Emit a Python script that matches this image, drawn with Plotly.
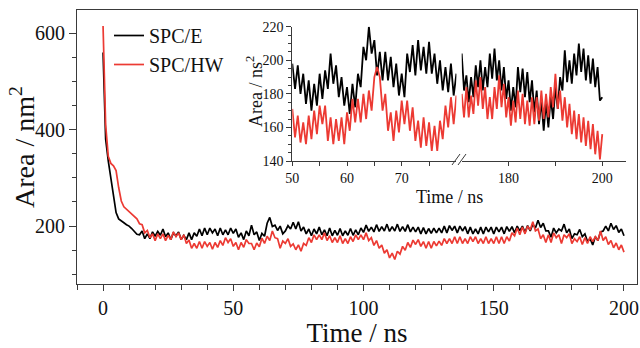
import plotly.graph_objects as go

# ---------------- data ----------------
time_main = list(range(0, 201))  # ns, 1 ns sampling

spce_main = [
    560, 380, 335, 300, 260, 228, 215, 210, 207, 203, 200, 195, 188, 183, 182,
    190, 174, 184, 174, 188, 179, 189, 181, 194, 178, 186, 172, 186, 180, 188,
    172, 181, 172, 186, 172, 186, 179, 194, 180, 196, 182, 196, 186, 194, 180,
    196, 182, 192, 182, 196, 185, 194, 177, 186, 172, 190, 180, 202, 182, 188,
    170, 185, 179, 206, 218, 199, 202, 191, 200, 184, 190, 201, 194, 208, 194,
    209, 190, 198, 184, 194, 180, 194, 184, 198, 182, 192, 180, 196, 180, 191,
    181, 195, 180, 190, 181, 195, 181, 192, 182, 196, 187, 202, 189, 198, 188,
    203, 189, 199, 190, 204, 189, 199, 190, 204, 189, 199, 189, 203, 188, 198,
    188, 198, 184, 197, 184, 195, 185, 196, 186, 196, 186, 200, 186, 201, 191,
    200, 186, 200, 190, 199, 184, 198, 184, 194, 184, 198, 184, 198, 188, 198,
    184, 198, 188, 198, 184, 199, 189, 199, 186, 200, 190, 200, 187, 201, 190,
    204, 196, 212, 197, 206, 190, 190, 177, 196, 186, 194, 190, 204, 186, 194,
    174, 184, 182, 193, 178, 184, 168, 174, 161, 178, 170, 188, 190, 200, 190,
    206, 193, 201, 187, 194, 180,
]

spchw_main = [
    615, 410, 345, 330, 325, 315, 280, 252, 240, 235, 230, 226, 222, 215, 205,
    203, 186, 191, 176, 184, 170, 184, 174, 184, 170, 181, 172, 188, 178, 186,
    172, 182, 164, 171, 154, 164, 154, 168, 154, 168, 158, 166, 152, 166, 156,
    170, 160, 176, 166, 174, 158, 166, 151, 166, 156, 172, 164, 164, 151, 165,
    157, 175, 164, 179, 170, 190, 176, 174, 154, 169, 164, 174, 158, 163, 151,
    161, 148, 164, 160, 176, 166, 182, 172, 182, 172, 186, 170, 180, 166, 176,
    166, 180, 164, 174, 164, 178, 168, 182, 172, 182, 172, 186, 170, 176, 160,
    170, 154, 161, 144, 151, 134, 144, 131, 148, 142, 158, 150, 166, 156, 171,
    162, 172, 158, 168, 154, 168, 154, 168, 159, 169, 160, 174, 164, 174, 164,
    178, 164, 178, 164, 174, 164, 178, 168, 178, 164, 174, 164, 178, 164, 174,
    164, 178, 164, 178, 164, 178, 169, 186, 180, 196, 182, 198, 184, 200, 192,
    209, 190, 194, 174, 182, 166, 182, 166, 186, 176, 182, 164, 182, 176, 184,
    164, 174, 168, 178, 162, 176, 164, 178, 168, 178, 170, 190, 170, 178, 162,
    170, 155, 165, 151, 161, 146,
]

# inset, 0.5 ns sampling (alternating upper / lower edge of the noisy trace)
time_inset_a = [50 + 0.5 * i for i in range(61)]    # 50 .. 80 ns
time_inset_b = [170 + 0.5 * i for i in range(61)]   # 170 .. 200 ns

spce_inset_a = [
    198, 183, 197, 180, 192, 174, 188, 170, 186, 173, 192, 177, 194, 183, 204, 186,
    197, 178, 190, 173, 184, 168, 186, 172, 192, 184, 208, 200, 220, 204, 212, 191,
    205, 188, 205, 188, 202, 184, 198, 179, 192, 178, 204, 193, 209, 191, 212, 194,
    208, 192, 211, 192, 204, 186, 200, 182, 196, 181, 198, 179, 192,
]
spchw_inset_a = [
    171, 154, 167, 151, 163, 150, 167, 153, 170, 156, 173, 162, 173, 152, 166, 150,
    165, 152, 166, 150, 169, 158, 177, 163, 177, 163, 180, 165, 182, 170, 190, 196,
    190, 170, 180, 158, 169, 152, 170, 157, 176, 162, 176, 158, 172, 152, 164, 148,
    166, 149, 163, 146, 161, 146, 164, 153, 173, 160, 178, 162, 179,
]
spce_inset_b = [
    204, 182, 191, 175, 190, 178, 197, 184, 200, 182, 196, 184, 204, 189, 207, 188,
    200, 182, 196, 177, 188, 170, 184, 172, 196, 181, 195, 178, 193, 175, 188, 169,
    182, 162, 176, 158, 175, 160, 178, 165, 184, 171, 190, 182, 206, 187, 200, 186,
    204, 191, 210, 193, 207, 188, 203, 186, 201, 184, 196, 176, 178,
]
spchw_inset_b = [
    180, 166, 184, 166, 179, 168, 188, 173, 190, 171, 184, 165, 178, 165, 184, 171,
    191, 172, 186, 166, 178, 161, 176, 163, 182, 165, 180, 162, 176, 161, 178, 162,
    178, 164, 182, 165, 180, 166, 184, 172, 192, 171, 182, 164, 178, 160, 174, 156,
    170, 153, 168, 151, 166, 149, 164, 147, 162, 144, 158, 141, 156,
]

series_names = ["SPC/E", "SPC/HW"]
series_colors = ["#000000", "#ec3a33"]

main_ticks_x = [0, 50, 100, 150, 200]
main_ticks_y = [200, 400, 600]
inset_ticks_a = [50, 60, 70]
inset_ticks_b = [180, 190, 200]
inset_ticklabels_b = ["180", "", "200"]
inset_ticks_y = [140, 160, 180, 200, 220]

# ---------------- figure ----------------
FONT = "Liberation Serif"
AXC = "#3a3a3a"
W, H = 640, 348
ML, MR, MT, MB = 77, 3, 10, 64
PW, PH = W - ML - MR, H - MT - MB


def px(x):
    return (x - ML) / PW


def py(y):
    return (H - MB - y) / PH


fig = go.Figure()

for name, col, vals in zip(series_names, series_colors, [spce_main, spchw_main]):
    fig.add_trace(go.Scatter(x=time_main, y=vals, mode="lines", name=name,
                             line=dict(color=col, width=1.7),
                             xaxis="x", yaxis="y"))

for col, va, vb in zip(series_colors, [spce_inset_a, spchw_inset_a],
                       [spce_inset_b, spchw_inset_b]):
    fig.add_trace(go.Scatter(x=time_inset_a, y=va, mode="lines", showlegend=False,
                             line=dict(color=col, width=1.8), xaxis="x2", yaxis="y2"))
    fig.add_trace(go.Scatter(x=time_inset_b, y=vb, mode="lines", showlegend=False,
                             line=dict(color=col, width=1.8), xaxis="x3", yaxis="y2"))

axis_common = dict(showgrid=False, zeroline=False, showline=True, linecolor=AXC,
                   linewidth=1, ticks="outside", tickcolor=AXC, automargin=False)

fig.update_layout(
    width=W, height=H,
    margin=dict(l=ML, r=MR, t=MT, b=MB, autoexpand=False),
    paper_bgcolor="white", plot_bgcolor="white",
    font=dict(family=FONT, color="#111"),
    xaxis=dict(**axis_common, domain=[0, 1], range=[-10, 205], mirror=True,
               tickvals=main_ticks_x, ticklen=6, tickfont=dict(size=20),
               minor=dict(dtick=10, ticklen=5, ticks="outside", tickcolor=AXC),
               title=dict(text="Time / ns", font=dict(size=27), standoff=9)),
    yaxis=dict(**axis_common, domain=[0, 1], range=[80, 648], mirror=True,
               tickvals=main_ticks_y, ticklen=7, tickfont=dict(size=20),
               minor=dict(dtick=50, ticklen=4, ticks="outside", tickcolor=AXC)),
    xaxis2=dict(**axis_common, domain=[px(292.3), px(456.4)], range=[50, 80],
                anchor="y2", tickvals=inset_ticks_a, ticklen=4,
                tickfont=dict(size=14),
                minor=dict(tickvals=[55, 65, 75], ticklen=4, ticks="outside", tickcolor=AXC)),
    xaxis3=dict(**axis_common, domain=[px(461.7), px(625.7)], range=[170, 205],
                anchor="y2", tickvals=inset_ticks_b, ticktext=inset_ticklabels_b,
                ticklen=4, tickfont=dict(size=14)),
    yaxis2=dict(**axis_common, domain=[py(161), py(26.7)], range=[140, 220],
                anchor="x2", tickvals=inset_ticks_y, ticklen=5,
                tickfont=dict(size=14),
                minor=dict(dtick=5, ticklen=3, ticks="outside", tickcolor=AXC)),
    legend=dict(x=px(109), y=py(16), xanchor="left", yanchor="top",
                bgcolor="rgba(0,0,0,0)", font=dict(size=20), itemwidth=30,
                tracegroupgap=0),
    showlegend=True,
)

# axis titles placed as paper-anchored text
fig.add_annotation(text="Area / nm<sup>2</sup>", xref="paper", yref="paper",
                   x=px(22), y=py(147), textangle=-90, showarrow=False,
                   font=dict(size=28), xanchor="center", yanchor="middle")
fig.add_annotation(text="Area / ns<sup>2</sup>", xref="paper", yref="paper",
                   x=px(255), y=py(92), textangle=-90, showarrow=False,
                   font=dict(size=18), xanchor="center", yanchor="middle")
fig.add_annotation(text="Time / ns", xref="paper", yref="paper", x=px(449), y=py(197),
                   showarrow=False, font=dict(size=18), xanchor="center", yanchor="middle")

# axis-break marks between the two inset segments
for x0 in (452, 458):
    fig.add_shape(type="line", xref="paper", yref="paper",
                  x0=px(x0), y0=py(165), x1=px(x0 + 8), y1=py(154),
                  line=dict(color=AXC, width=1))

fig.write_html("out.html", config={"displayModeBar": False},
               post_script="document.body.style.margin='0';"
                           "document.body.style.overflow='hidden';")
